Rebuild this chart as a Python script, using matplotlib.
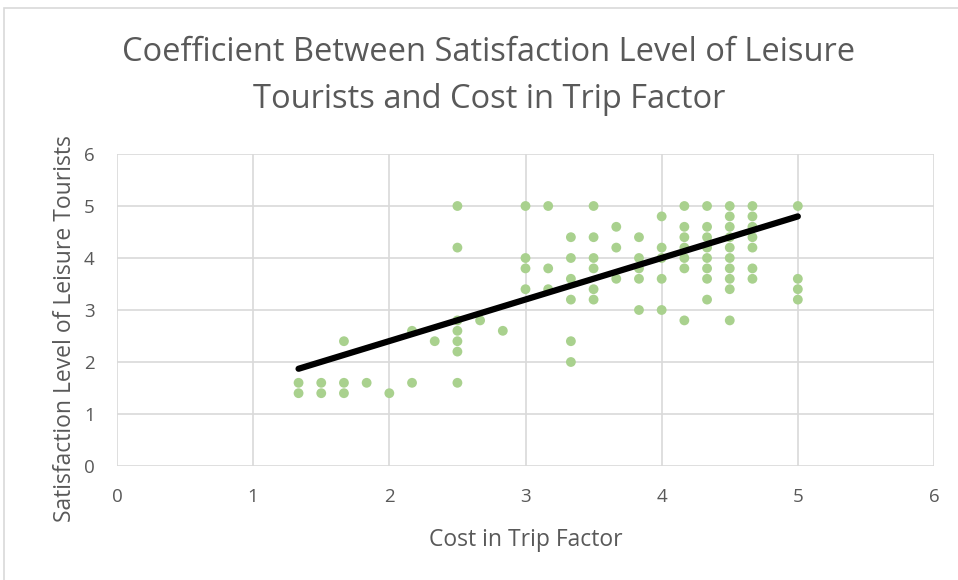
import matplotlib.pyplot as plt
from matplotlib.patches import Rectangle

# survey responses: cost in trip factor vs satisfaction level (leisure tourists)
cost_x = [
    4/3, 4/3,
    1.5, 1.5,
    5/3, 5/3, 5/3,
    11/6,
    2.0,
    13/6, 13/6,
    7/3,
    2.5, 2.5, 2.5, 2.5, 2.5, 2.5, 2.5,
    8/3,
    17/6,
    3.0, 3.0, 3.0, 3.0,
    19/6, 19/6, 19/6,
    10/3, 10/3, 10/3, 10/3, 10/3, 10/3,
    3.5, 3.5, 3.5, 3.5, 3.5, 3.5,
    11/3, 11/3, 11/3,
    23/6, 23/6, 23/6, 23/6, 23/6,
    4.0, 4.0, 4.0, 4.0, 4.0,
    25/6, 25/6, 25/6, 25/6, 25/6, 25/6, 25/6,
    13/3, 13/3, 13/3, 13/3, 13/3, 13/3, 13/3, 13/3,
    4.5, 4.5, 4.5, 4.5, 4.5, 4.5, 4.5, 4.5, 4.5, 4.5,
    14/3, 14/3, 14/3, 14/3, 14/3, 14/3, 14/3,
    5.0, 5.0, 5.0, 5.0,
]
satisfaction_y = [
    1.4, 1.6,
    1.4, 1.6,
    1.4, 1.6, 2.4,
    1.6,
    1.4,
    1.6, 2.6,
    2.4,
    1.6, 2.2, 2.4, 2.6, 2.8, 4.2, 5.0,
    2.8,
    2.6,
    3.4, 3.8, 4.0, 5.0,
    3.4, 3.8, 5.0,
    2.0, 2.4, 3.2, 3.6, 4.0, 4.4,
    3.2, 3.4, 3.8, 4.0, 4.4, 5.0,
    3.6, 4.2, 4.6,
    3.0, 3.6, 3.8, 4.0, 4.4,
    3.0, 3.6, 4.0, 4.2, 4.8,
    2.8, 3.8, 4.0, 4.2, 4.4, 4.6, 5.0,
    3.2, 3.6, 3.8, 4.0, 4.2, 4.4, 4.6, 5.0,
    2.8, 3.4, 3.6, 3.8, 4.0, 4.2, 4.4, 4.6, 4.8, 5.0,
    3.6, 3.8, 4.2, 4.4, 4.6, 4.8, 5.0,
    3.2, 3.4, 3.6, 5.0,
]

# linear trendline end points
trend_x = [4/3, 5.0]
trend_y = [1.87, 4.80]

title = "Coefficient Between Satisfaction Level of Leisure\nTourists and Cost in Trip Factor"
xlabel = "Cost in Trip Factor"
ylabel = "Satisfaction Level of Leisure Tourists"
ticks = [0, 1, 2, 3, 4, 5, 6]

txt = "#595959"
grid = "#D9D9D9"
plt.rcParams['font.family'] = ['Open Sans', 'DejaVu Sans']

fig = plt.figure(figsize=(9.58, 5.80), dpi=100)
fig.patches.append(Rectangle((4/958, -0.01), 1.0, 1 - 8/580 + 0.01, transform=fig.transFigure,
                             fill=False, edgecolor="#D9D9D9", linewidth=1.2))

ax = fig.add_axes([117/958, 1 - 466/580, (934 - 117)/958, (466 - 154)/580])
ax.scatter(cost_x, satisfaction_y, s=50, color="#A9D18E", edgecolors="none", zorder=3)
ax.plot(trend_x, trend_y, color="black", linewidth=4.5, solid_capstyle="round", zorder=4)

ax.set_xlim(0, 6)
ax.set_ylim(0, 6)
ax.set_xticks(ticks)
ax.set_yticks(ticks)
ax.grid(True, color=grid, linewidth=1.2)
ax.set_axisbelow(True)
for s in ax.spines.values():
    s.set_visible(False)
ax.tick_params(length=0, labelsize=13.5, labelcolor=txt)
ax.tick_params(axis='x', pad=16)
ax.tick_params(axis='y', pad=16)

ax.set_xlabel(xlabel, fontsize=16.5, color=txt, labelpad=16)
ax.set_ylabel(ylabel, fontsize=16.5, color=txt)
ax.yaxis.set_label_coords(-0.049, 0.442)
fig.text(0.5104, 1 - 76/580, title, ha="center", va="center", fontsize=23.5,
         color=txt, linespacing=1.55)

fig.savefig("out.png", dpi=100)
